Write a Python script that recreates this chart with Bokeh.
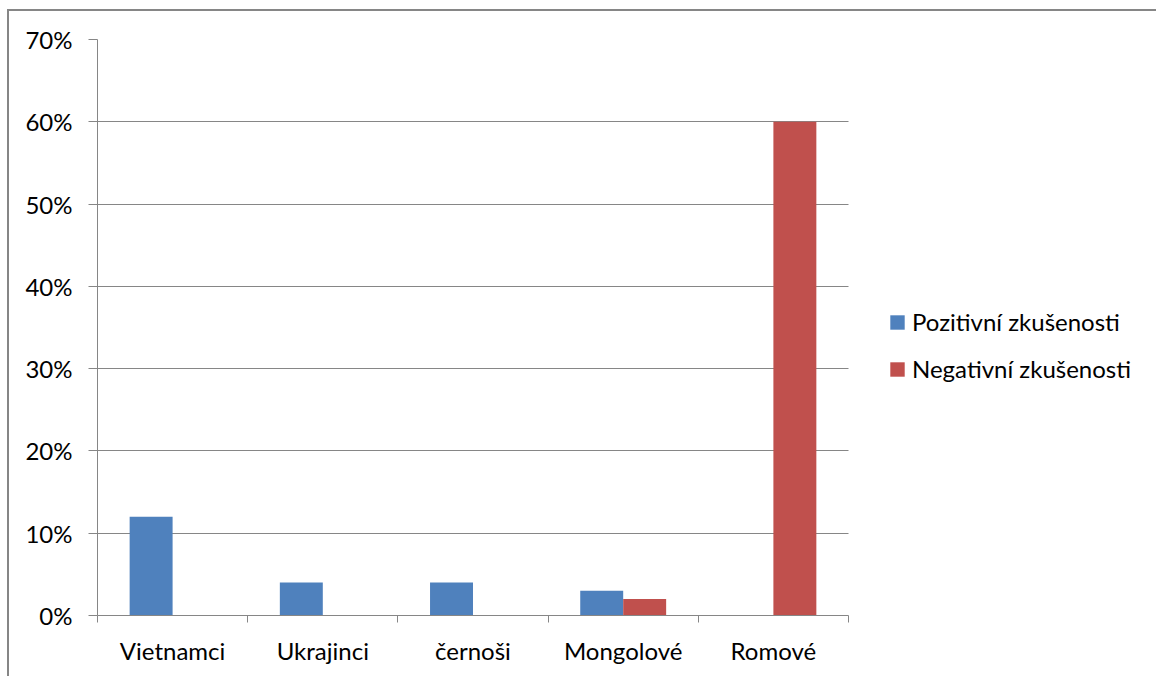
from bokeh.plotting import figure
from bokeh.models import (ColumnDataSource, Range1d, FixedTicker, NumeralTickFormatter,
                          Legend, LegendItem)
from bokeh.transform import dodge
from bokeh.embed import file_html
from bokeh.resources import INLINE

categories = ["Vietnamci", "Ukrajinci", "černoši", "Mongolové", "Romové"]
positive = [0.12, 0.04, 0.04, 0.03, 0.0]
negative = [0.0, 0.0, 0.0, 0.02, 0.60]
series_names = ["Pozitivní zkušenosti", "Negativní zkušenosti"]
y_ticks = [0, 0.1, 0.2, 0.3, 0.4, 0.5, 0.6, 0.7]

FONT = "Lato"
GRAY = "#868686"
BLUE = "#4F81BD"
RED = "#C0504D"

n = len(categories)
centers = [i + 0.5 for i in range(n)]
src = ColumnDataSource(dict(x=centers, pos=positive, neg=negative, cat=categories))

# frame extends under the legend; category area occupies 0..n
X_END = 7.064
p = figure(width=1149, height=667, output_backend="svg", toolbar_location=None,
           x_range=Range1d(0, X_END), y_range=Range1d(0, 0.7))
p.styles = {"border-left": "2px solid #868686", "border-top": "2px solid #868686",
            "margin-left": "7px", "margin-top": "9px"}
p.min_border_left = 88
p.min_border_right = 0
p.min_border_top = 28
p.min_border_bottom = 63
p.outline_line_color = None
p.background_fill_color = "white"
p.border_fill_color = "white"

bw = 0.286
r1 = p.vbar(x=dodge("x", -0.143), top="pos", width=bw, source=src, fill_color=BLUE, line_color=None)
r2 = p.vbar(x=dodge("x", 0.143), top="neg", width=bw, source=src, fill_color=RED, line_color=None)

# y axis
p.yaxis.ticker = FixedTicker(ticks=y_ticks)
p.yaxis.formatter = NumeralTickFormatter(format="0%")
p.yaxis.axis_line_color = GRAY
p.yaxis.major_tick_line_color = GRAY
p.yaxis.major_tick_out = 9
p.yaxis.major_tick_in = 0
p.yaxis.minor_tick_line_color = None
p.yaxis.major_label_standoff = 16
p.yaxis.major_label_text_font = FONT
p.yaxis.major_label_text_font_size = "24px"
p.yaxis.major_label_text_color = "black"

# x axis: labels at category centers, ticks at boundaries
p.xaxis.bounds = (0, n)
p.xaxis.ticker = FixedTicker(ticks=centers, minor_ticks=list(range(n + 1)))
p.xaxis.major_label_overrides = {c: name for c, name in zip(centers, categories)}
p.xaxis.axis_line_color = GRAY
p.xaxis.major_tick_line_color = None
p.xaxis.major_tick_out = 0
p.xaxis.major_tick_in = 0
p.xaxis.minor_tick_line_color = GRAY
p.xaxis.minor_tick_out = 7
p.xaxis.minor_tick_in = 0
p.xaxis.major_label_standoff = 13
p.xaxis.major_label_text_font = FONT
p.xaxis.major_label_text_font_size = "24px"
p.xaxis.major_label_text_color = "black"

p.xgrid.grid_line_color = None
p.ygrid.ticker = FixedTicker(ticks=y_ticks)
p.ygrid.cross_bounds = (0, n)
p.ygrid.grid_line_color = GRAY
p.ygrid.grid_line_width = 1

legend = Legend(items=[LegendItem(label=series_names[0], renderers=[r1]),
                       LegendItem(label=series_names[1], renderers=[r2])],
                location=(791, 232))
legend.border_line_color = None
legend.background_fill_alpha = 0
legend.padding = 0
legend.margin = 0
legend.glyph_width = 18
legend.glyph_height = 18
legend.label_standoff = 6
legend.label_height = 20
legend.spacing = 18
legend.label_text_font = FONT
legend.label_text_font_size = "24px"
legend.label_text_color = "black"
p.add_layout(legend)

open("out.html", "w").write(file_html(p, INLINE))
